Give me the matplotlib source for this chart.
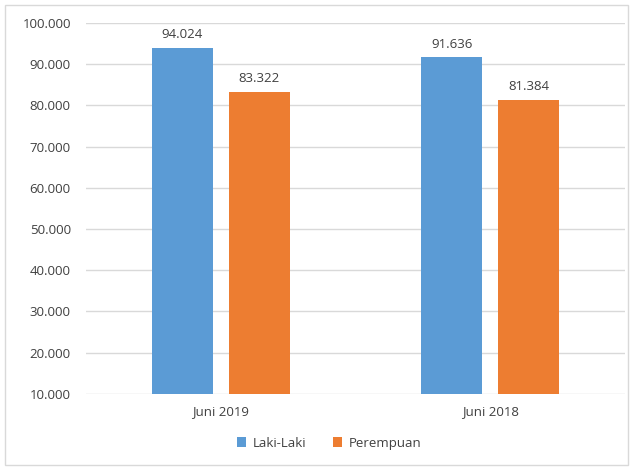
import numpy as np
import matplotlib
matplotlib.use("Agg")
import matplotlib.pyplot as plt
from matplotlib.patches import Rectangle
from matplotlib.ticker import FuncFormatter

categories = ["Juni 2019", "Juni 2018"]
series_names = ["Laki-Laki", "Perempuan"]
laki = [94024, 91636]
perempuan = [83322, 81384]
yticks = [10000, 20000, 30000, 40000, 50000, 60000, 70000, 80000, 90000, 100000]

plt.rcParams['font.family'] = ['Open Sans', 'DejaVu Sans']

fig = plt.figure(figsize=(6.33, 4.70), dpi=100)
ax = fig.add_axes([0.136, 0.162, 0.851, 0.789])

# outer frame round the whole chart
fig.patches.append(Rectangle((0.008, 0.011), 0.984, 0.978, transform=fig.transFigure,
                             fill=False, edgecolor='#d9d9d9', linewidth=1.0))

x = np.arange(len(categories))
w = 0.226
off = 0.143
b1 = ax.bar(x - off, laki, w, color='#5B9BD5', label=series_names[0], zorder=3)
b2 = ax.bar(x + off, perempuan, w, color='#ED7D31', label=series_names[1], zorder=3)

def fmt(v):
    return f"{int(v):,}".replace(",", ".")

for bars in (b1, b2):
    for r in bars:
        h = r.get_height()
        ax.annotate(fmt(h), (r.get_x() + r.get_width() / 2, h), xytext=(0, 5),
                    textcoords='offset points', ha='center', va='bottom',
                    fontsize=9.5, color='#404040')

ax.set_xlim(-0.5, 1.5)
ax.set_ylim(10000, 100000)
ax.set_yticks(yticks)
ax.yaxis.set_major_formatter(FuncFormatter(lambda v, p: fmt(v)))
ax.set_xticks(x)
ax.set_xticklabels(categories)
ax.grid(axis='y', color='#d9d9d9', linewidth=1.0, zorder=0)
for s in ax.spines.values():
    s.set_visible(False)
ax.tick_params(axis='both', length=0, labelsize=9.5, labelcolor='#404040')
ax.tick_params(axis='y', pad=11)
ax.tick_params(axis='x', pad=8)

fig.legend(loc='center', bbox_to_anchor=(0.52, 0.057), ncol=2, frameon=False,
           fontsize=9.5, handlelength=0.7, handleheight=0.7, handletextpad=0.5,
           columnspacing=2.0, labelcolor='#404040')

fig.savefig('out.png', dpi=100)
